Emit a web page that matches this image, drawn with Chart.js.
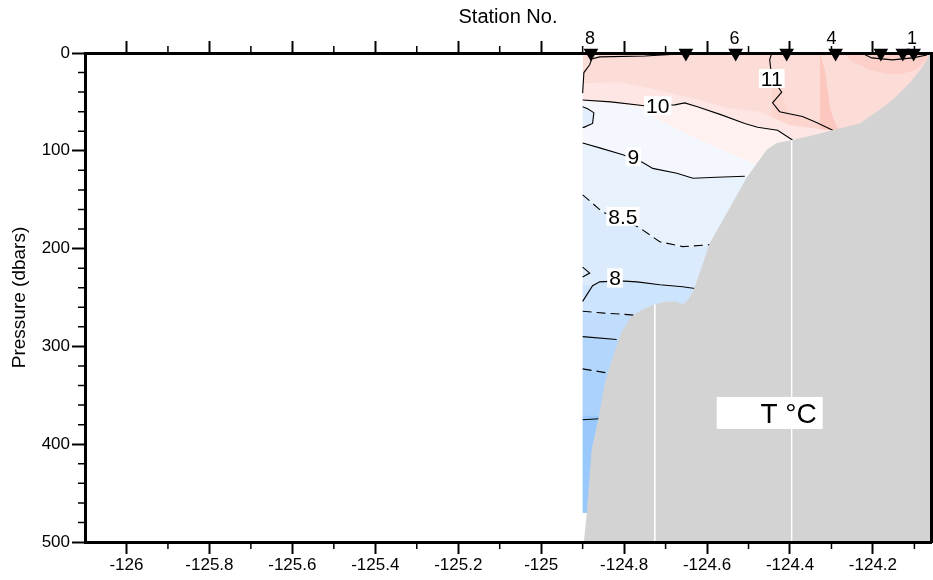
<!DOCTYPE html>
<html><head><meta charset="utf-8">
<script src="https://cdn.jsdelivr.net/npm/chart.js@4/dist/chart.umd.min.js"></script>
<style>html,body{margin:0;padding:0;background:#fff;}#wrap{width:933px;height:580px;}</style>
</head><body><div id="wrap"><canvas id="c" width="933" height="580"></canvas></div>
<script>
// ---- axis ticks ----
const xTicks = [-126, -125.8, -125.6, -125.4, -125.2, -125, -124.8, -124.6, -124.4, -124.2];
const xMinorTicks = [-125.9, -125.7, -125.5, -125.3, -125.1, -124.9, -124.7, -124.5, -124.3, -124.1];
const yTicks = [0, 100, 200, 300, 400, 500];
const yMinorTicks = [20,40,60,80,120,140,160,180,220,240,260,280,320,340,360,380,420,440,460,480];
const yRightTicks = yTicks.concat(yMinorTicks).sort((a,b)=>a-b);

// ---- stations (longitude) ----
const stationLon = [-124.880, -124.651, -124.531, -124.408, -124.290, -124.181, -124.128, -124.102];
const stationLabelText = ['8', '6', '4', '1'];
const stationLabelLon = [-124.882, -124.534, -124.300, -124.106];

// ---- colour bands: upper boundary [lon, dbar], filled downward ----
const bandTop  = [[-124.90,0],[-124.06,0]];
const bandMid  = [[-124.444,0],[-124.449,7],[-124.444,25],[-124.420,40],[-124.442,51],[-124.425,60],[-124.370,65],[-124.336,71],[-124.297,79],[-124.06,79]];
const bandDeep = [[-124.328,0],[-124.316,17],[-124.309,38],[-124.304,55],[-124.292,71],[-124.285,77],[-124.06,77]];
const bandRing = [[-124.273,0],[-124.249,9],[-124.208,17],[-124.170,21],[-124.136,22],[-124.095,17],[-124.071,7],[-124.063,0]];
const band105  = [[-124.90,31],[-124.810,30],[-124.738,36],[-124.618,48],[-124.553,56],[-124.473,60],[-124.401,74],[-124.304,79],[-124.06,79]];
const band10   = [[-124.90,47],[-124.832,49],[-124.751,53],[-124.678,52],[-124.654,50],[-124.623,54],[-124.567,62],[-124.509,71],[-124.478,75],[-124.430,78],[-124.394,88],[-124.06,88]];
const band95   = [[-124.90,50],[-124.810,52],[-124.762,56],[-124.714,69],[-124.618,89],[-124.521,107],[-124.449,120],[-124.06,120]];
const band9    = [[-124.90,93],[-124.859,98],[-124.803,105],[-124.755,113],[-124.731,119],[-124.673,124],[-124.634,129],[-124.577,128],[-124.509,127],[-124.06,127]];
const band85   = [[-124.90,146],[-124.851,164],[-124.805,170],[-124.762,180],[-124.714,194],[-124.659,199],[-124.593,197],[-124.06,197]];
const band8    = [[-124.90,237],[-124.876,238],[-124.859,235],[-124.810,234],[-124.769,235],[-124.714,238],[-124.659,240],[-124.625,242],[-124.06,242]];
const band75   = [[-124.90,265],[-124.847,267],[-124.808,268],[-124.777,269],[-124.06,269]];
const band7    = [[-124.90,291],[-124.818,294],[-124.06,294]];
const band65   = [[-124.90,324],[-124.842,328],[-124.06,328]];
const band6    = [[-124.90,371],[-124.859,371],[-124.06,371]];
const bandLoop = [[-124.90,55],[-124.888,57],[-124.873,61],[-124.876,72],[-124.897,76],[-124.90,76]];

// ---- contour lines [lon, dbar] ----
const c11a = [[-124.90,41],[-124.897,20],[-124.883,12],[-124.878,6],[-124.859,4],[-124.750,3],[-124.666,1],[-124.618,0]];
const c11b = [[-124.444,0],[-124.449,7],[-124.444,25],[-124.420,40],[-124.442,51],[-124.425,60],[-124.370,65],[-124.336,71],[-124.297,79]];
const c12  = [[-124.227,0],[-124.203,5],[-124.153,7],[-124.104,5],[-124.070,2]];
const c10  = [[-124.90,48],[-124.832,50],[-124.751,54],[-124.678,53],[-124.654,51],[-124.623,55],[-124.567,63],[-124.509,72],[-124.478,76],[-124.430,79],[-124.394,89]];
const c9   = [[-124.90,92],[-124.859,97],[-124.803,104],[-124.755,112],[-124.731,118],[-124.673,123],[-124.634,128],[-124.577,127],[-124.509,126]];
const c85  = [[-124.90,145],[-124.851,163],[-124.805,169],[-124.762,179],[-124.714,193],[-124.659,198],[-124.593,196]];
const c8hook = [[-124.90,219],[-124.883,225],[-124.90,229]];
const c8   = [[-124.90,254],[-124.876,238],[-124.859,234],[-124.810,233],[-124.769,234],[-124.714,237],[-124.659,239],[-124.625,241]];
const c75  = [[-124.90,264],[-124.847,266],[-124.808,267],[-124.777,268]];
const c7   = [[-124.90,290],[-124.818,293]];
const c65  = [[-124.90,323],[-124.842,327]];
const c6   = [[-124.90,375],[-124.859,374]];

// ---- contour labels ----
const contourLabelText = ['11', '10', '9', '8.5', '8'];
const contourLabelLon  = [-124.444, -124.719, -124.778, -124.803, -124.822];
const contourLabelP    = [26, 54, 106, 167, 230];

// ---- bathymetry [lon, dbar] ----
const bathy = [[-124.897,500],[-124.890,470],[-124.878,405],[-124.861,372],[-124.847,338],[-124.822,304],[-124.806,285],[-124.784,270],[-124.755,262],[-124.726,257],[-124.697,254],[-124.675,254],[-124.659,257],[-124.645,252],[-124.634,244],[-124.618,225],[-124.593,194],[-124.553,164],[-124.504,127],[-124.456,99],[-124.432,92],[-124.394,89],[-124.345,84],[-124.297,79],[-124.232,72],[-124.184,58],[-124.153,48],[-124.112,31],[-124.080,14],[-124.063,2],[-124.06,0]];
const castLineLon = [-124.726, -124.396];
const castLineTop = [257, 89];

// ---- unit label ----
const unitText = 'T °C';
const unitLon = -124.449, unitP = 368;

const FONT = '"Liberation Sans", Arial, Helvetica, sans-serif';
Chart.defaults.color = '#000';
Chart.defaults.font.family = FONT;
// the station markers sit on the frame; keep them from shrinking the plot area
Chart.registry.getController('line').prototype.getMaxOverflow = function () { return 0; };

const toXY = a => a.map(([x,y]) => ({x, y}));
const datasets = [];
function band(arr, color, fill) {
  datasets.push({data: toXY(arr), borderWidth: 0, borderColor: 'rgba(0,0,0,0)', backgroundColor: color, fill: fill || {value: 470}, pointRadius: 0, tension: 0});
}
function contour(arr, dashed) {
  datasets.push({data: toXY(arr), borderWidth: 1.1, borderColor: '#000', borderDash: dashed ? [9,5] : [], fill: false, pointRadius: 0, tension: 0});
}
band(bandTop,  '#fcdcd7');
band(bandMid,  '#fcd5cf');
band(bandDeep, '#fbc7be');
band(bandRing, '#fcd0c9', {value: 0});
band(band105,  '#fde6e3');
band(band10,   '#fef1f0');
band(band95,   '#f4f8fe');
band(band9,    '#e8f2fd');
band(band85,   '#dbebfd');
band(band8,    '#cde4fd');
band(band75,   '#c0ddfd');
band(band7,    '#b3d7fc');
band(band65,   '#aad2fc');
band(band6,    '#99c9fc');
band(bandLoop, '#e2eefc', 'shape');
contour(c11a); contour(c11b); contour(c12); contour(c10); contour(bandLoop);
contour(c9); contour(c85, true); contour(c8hook); contour(c8); contour(c75, true);
contour(c7); contour(c65, true); contour(c6);
datasets.push({data: toXY(bathy), borderWidth: 0, borderColor: 'rgba(0,0,0,0)', backgroundColor: '#d3d3d3', fill: {value: 500}, pointRadius: 0, tension: 0});
castLineLon.forEach((lon, i) => datasets.push({data: [{x: lon, y: castLineTop[i]}, {x: lon, y: 500}], borderWidth: 1, borderColor: '#ffffff', fill: false, pointRadius: 0}));
datasets.push({data: stationLon.map(x => ({x, y: 0})), showLine: false, pointStyle: 'triangle', pointRotation: 180, pointRadius: 8.5, pointBackgroundColor: '#000', pointBorderColor: '#000', pointBorderWidth: 0, clip: false});
datasets.forEach((d, i) => { d.order = 1000 - i; });

const overlay = {
  id: 'overlay',
  afterDraw(chart) {
    const ctx = chart.ctx, a = chart.chartArea, X = chart.scales.x, Y = chart.scales.y;
    ctx.save();
    ctx.strokeStyle = '#000'; ctx.lineWidth = 1.5;
    ctx.beginPath();
    xMinorTicks.forEach(v => {
      const px = X.getPixelForValue(v);
      ctx.moveTo(px, a.bottom); ctx.lineTo(px, a.bottom + 7);
      ctx.moveTo(px, a.top); ctx.lineTo(px, a.top - 7);
    });
    yMinorTicks.forEach(v => {
      const py = Y.getPixelForValue(v);
      ctx.moveTo(a.left - 7, py); ctx.lineTo(a.left, py);
    });
    ctx.stroke();
    // station labels
    ctx.fillStyle = '#000'; ctx.textAlign = 'center'; ctx.textBaseline = 'alphabetic';
    ctx.font = '18px ' + FONT;
    stationLabelLon.forEach((v, i) => ctx.fillText(stationLabelText[i], X.getPixelForValue(v), a.top - 9.5));
    // contour labels
    ctx.font = '21px ' + FONT;
    contourLabelText.forEach((t, i) => {
      const px = X.getPixelForValue(contourLabelLon[i]), py = Y.getPixelForValue(contourLabelP[i]);
      const w = ctx.measureText(t).width, h = 19;
      ctx.fillStyle = '#fff'; ctx.fillRect(px - w/2 - 2, py - h/2, w + 4, h);
      ctx.fillStyle = '#000'; ctx.fillText(t, px, py + 7.5);
    });
    // unit box
    const ux = X.getPixelForValue(unitLon), uy = Y.getPixelForValue(unitP);
    ctx.fillStyle = '#fff'; ctx.fillRect(ux - 53, uy - 16, 106, 32);
    ctx.fillStyle = '#000'; ctx.font = '28px ' + FONT; ctx.textAlign = 'right';
    ctx.fillText(unitText, ux + 47, uy + 10);
    ctx.restore();
  }
};

const gridOpts = (len) => ({drawOnChartArea: false, drawTicks: true, tickLength: len, tickWidth: 2, tickColor: '#000', color: '#000'});
const borderOpts = {display: true, width: 3, color: '#000', z: 1};
const noPad = s => { s.paddingLeft = 0; s.paddingRight = 0; s.paddingTop = 0; s.paddingBottom = 0; };

new Chart(document.getElementById('c'), {
  type: 'line',
  data: {datasets},
  plugins: [overlay],
  options: {
    responsive: false, animation: false, events: [],
    layout: {padding: 0},
    plugins: {legend: {display: false}, tooltip: {enabled: false}},
    scales: {
      x: {type: 'linear', position: 'bottom', min: -126.1, max: -124.06, bounds: 'data',
          afterBuildTicks: s => { s.ticks = xTicks.map(v => ({value: v})); },
          afterFit: s => { s.height = 38; noPad(s); },
          ticks: {autoSkip: false, maxRotation: 0, padding: 1, font: {size: 17}, callback: v => String(v)},
          grid: gridOpts(12), border: borderOpts},
      x2: {type: 'linear', axis: 'x', position: 'top', min: -126.1, max: -124.06, bounds: 'data',
          afterBuildTicks: s => { s.ticks = xTicks.map(v => ({value: v})); },
          afterFit: s => { s.height = 53; noPad(s); },
          ticks: {autoSkip: false, maxRotation: 0, callback: () => ''},
          title: {display: true, text: 'Station No.', font: {size: 20}, padding: {top: 5, bottom: 0}},
          grid: gridOpts(12), border: borderOpts},
      y: {type: 'linear', position: 'left', reverse: true, min: 0, max: 500, bounds: 'data',
          afterBuildTicks: s => { s.ticks = yTicks.map(v => ({value: v})); },
          afterFit: s => { s.width = 85; noPad(s); },
          ticks: {autoSkip: false, padding: 2, font: {size: 17}, callback: v => String(v)},
          title: {display: true, text: 'Pressure (dbars)', font: {size: 19}, padding: {top: 8, bottom: 0}},
          grid: gridOpts(13), border: borderOpts},
      y2: {type: 'linear', axis: 'y', position: 'right', reverse: true, min: 0, max: 500, bounds: 'data',
          afterBuildTicks: s => { s.ticks = yRightTicks.map(v => ({value: v})); },
          afterFit: s => { s.width = 2; noPad(s); },
          ticks: {autoSkip: false, callback: () => ''},
          grid: gridOpts(5), border: borderOpts}
    }
  }
});
</script></body></html>
